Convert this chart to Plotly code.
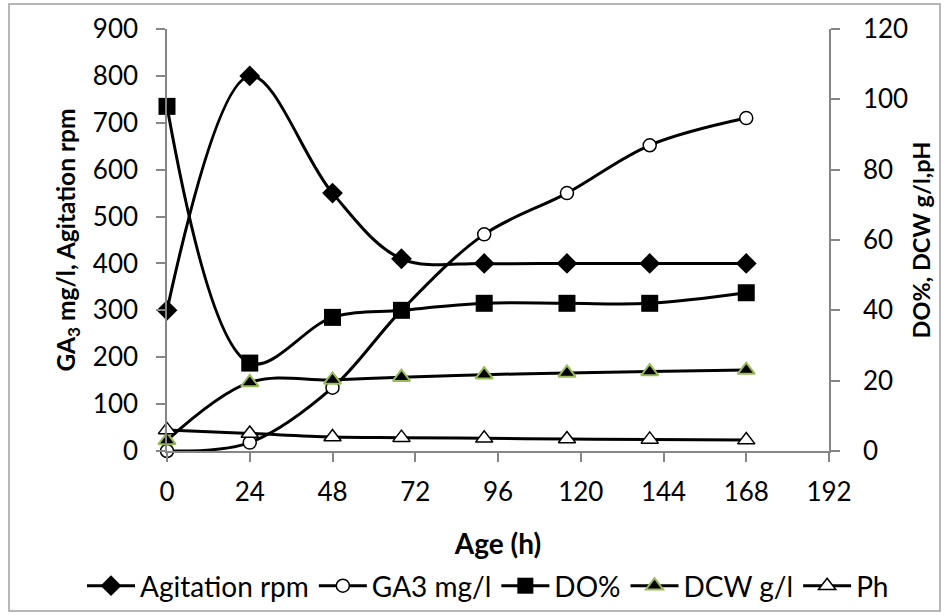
import plotly.graph_objects as go

age = [0, 24, 48, 68, 92, 116, 140, 168]
agitation_rpm = [300, 800, 550, 410, 400, 400, 400, 400]
ga3_mg_l = [0, 18, 135, 300, 462, 550, 652, 710]
do_pct = [98, 25, 38, 40, 42, 42, 42, 45]
dcw_g_l = [3, 19.5, 20.2, 21, 21.7, 22.2, 22.6, 23]
ph = [6, 5, 4, 3.8, 3.6, 3.4, 3.3, 3.1]

FONT = "Lato"
LW = 3

# plot-area geometry (pixels)
L, R, T, B = 167, 121, 29, 164
W, H = 950, 615
PW, PH = W - L - R, H - T - B

fig = go.Figure()
common = dict(mode="lines+markers", cliponaxis=False)
fig.add_trace(go.Scatter(
    x=age, y=agitation_rpm, name="Agitation rpm", **common,
    line=dict(color="black", width=LW, shape="spline", smoothing=1),
    marker=dict(symbol="diamond", size=16, color="black"),
))
fig.add_trace(go.Scatter(
    x=age, y=ga3_mg_l, name="GA3 mg/l", **common,
    line=dict(color="black", width=LW, shape="spline", smoothing=1),
    marker=dict(symbol="circle", size=13, color="white", line=dict(color="black", width=1.5)),
))
fig.add_trace(go.Scatter(
    x=age, y=do_pct, name="DO%", yaxis="y2", **common,
    line=dict(color="black", width=LW, shape="spline", smoothing=1),
    marker=dict(symbol="square", size=17, color="black"),
))
fig.add_trace(go.Scatter(
    x=age, y=dcw_g_l, name="DCW g/l", yaxis="y2", **common,
    line=dict(color="black", width=LW, shape="spline", smoothing=1),
    marker=dict(symbol="triangle-up", size=15, color="black",
                line=dict(color="#9BBB59", width=2)),
))
fig.add_trace(go.Scatter(
    x=age, y=ph, name="Ph", yaxis="y2", **common,
    line=dict(color="black", width=LW, shape="spline", smoothing=1),
    marker=dict(symbol="triangle-up", size=15, color="white",
                line=dict(color="black", width=1.5)),
))

axis_col = "#868686"
axis_common = dict(showgrid=False, zeroline=False, automargin=False,
                   showline=True, linecolor=axis_col, linewidth=1.5,
                   ticks="outside", ticklen=9, tickcolor=axis_col, tickwidth=1.5,
                   tickfont=dict(size=26))
fig.update_layout(
    width=W, height=H,
    margin=dict(l=L, r=R, t=T, b=B, autoexpand=False),
    paper_bgcolor="white", plot_bgcolor="white",
    font=dict(family=FONT, size=25, color="black"),
    showlegend=True,
    legend=dict(orientation="h", x=(82 - L) / PW, xanchor="left",
                y=(T + PH - 586) / PH, yanchor="middle",
                font=dict(size=28), tracegroupgap=0, itemwidth=48,
                bgcolor="rgba(0,0,0,0)"),
    xaxis=dict(range=[0, 192], tick0=0, dtick=24, ticklabelstandoff=8, **axis_common,
               title=dict(text="<b>Age (h)</b>", standoff=28, font=dict(size=28))),
    yaxis=dict(range=[0, 900], tick0=0, dtick=100, ticklabelstandoff=13, **axis_common,
               title=dict(text="<b>GA<sub>3</sub> mg/l, Agitation rpm</b>", standoff=10,
                          font=dict(size=24.5))),
    yaxis2=dict(range=[0, 120], tick0=0, dtick=20, overlaying="y", side="right",
                ticklabelstandoff=18, **axis_common,
                title=dict(text="<b>DO%, DCW g/l,pH</b>", standoff=6, font=dict(size=23.5))),
    shapes=[dict(type="rect", xref="paper", yref="paper",
                 x0=(9 - L) / PW, x1=(940 - L) / PW,
                 y0=(T + PH - 611) / PH, y1=(T + PH - 4) / PH,
                 line=dict(color="#A0A0A0", width=1.5), layer="below")],
)

fig.write_html("out.html", config={"displayModeBar": False},
               post_script="document.body.style.margin='0';")
